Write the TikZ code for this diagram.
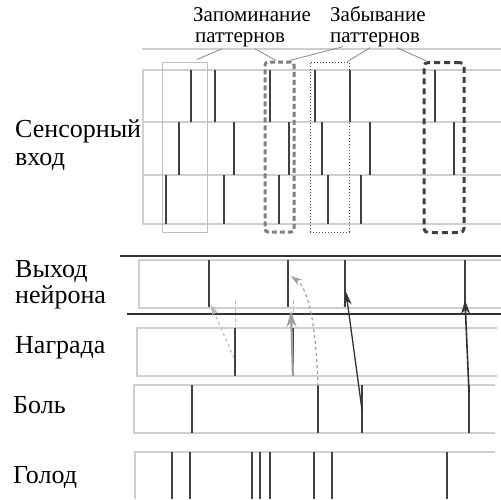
\documentclass[tikz,border=0pt]{standalone}
\usepackage{fontspec}
\setmainfont{Liberation Serif}
\usepackage{tikz}
\usetikzlibrary{arrows.meta,calc,positioning}

\definecolor{spikegray}{HTML}{404040}
\definecolor{gridgray}{HTML}{CFCFCF}

\tikzset{
  grid line/.style={gridgray, line width=1.3pt},
  spike/.style={spikegray, line width=1.7pt},
  sep line/.style={black!80, line width=1.6pt},
  side text/.style={font=\fontsize{26}{28}\selectfont, anchor=base west, inner sep=0pt},
  top text/.style={font=\fontsize{21}{20}\selectfont, anchor=base west, inner sep=0pt},
  pointer/.style={gray!85, line width=0.9pt},
  window/.style={inner sep=0pt, minimum height=170pt},
}

\begin{document}
\begin{tikzpicture}[x=1pt,y=-1pt]
\useasboundingbox (0,0) rectangle (501,499);

% Подписи слева
\node[side text] (sens1) at (15,137) {Сенсорный};
\node[side text] (sens2) at (15,165) {вход};
\node[side text] (out1) at (15,277) {Выход};
\node[side text] (out2) at (15,303) {нейрона};
\node[side text] (reward) at (15,353) {Награда};
\node[side text] (pain) at (13,413) {Боль};
\node[side text] (hunger) at (13,483) {Голод};

% Подписи сверху
\node[top text] (remember1) at (193,21) {Запоминание};
\node[top text] (remember2) at (195,42) {паттернов};
\node[top text] (forget1) at (330,21) {Забывание};
\node[top text] (forget2) at (330,42) {паттернов};

% Сетка сенсорного входа
\draw[grid line] (142,49) -- (501,49);
\draw[grid line] (501,70) -- (143,70) -- (143,224) -- (501,224);
\draw[grid line] (143,122) -- (501,122);
\draw[grid line] (143,175) -- (501,175);

% Спайки входа по трем каналам
\draw[spike] (191,70) -- (191,122) (215,70) -- (215,122) (270,70) -- (270,122)
  (315,70) -- (315,122) (350,70) -- (350,122) (435,70) -- (435,122);
\draw[spike] (179,122) -- (179,175) (234,122) -- (234,175) (289,122) -- (289,175)
  (322,122) -- (322,175) (370,122) -- (370,175) (454,122) -- (454,175);
\draw[spike] (166,175) -- (166,224) (224,175) -- (224,224) (279,175) -- (279,224)
  (328,175) -- (328,224) (361,175) -- (361,224);

% Окна паттернов
\node[window, draw=gray!50, line width=1pt, minimum width=45pt] (winA) at (184.5,147) {};
\node[window, draw=black!50, line width=3pt, dash pattern=on 5pt off 3pt,
  rounded corners=3pt, minimum width=29pt] (winB) at (279.5,147) {};
\node[window, draw=black!70, line width=1pt, dotted, minimum width=39pt] (winC) at (329.5,147) {};
\node[window, draw=black!75, line width=3pt, dash pattern=on 6pt off 4pt,
  rounded corners=4pt, minimum width=40pt] (winD) at (444,147.5) {};

% Выноски
\draw[pointer] ($(winA.north)+(12.5,-2)$) -- ($(remember2.south west)+(27,2)$);
\draw[pointer] ($(remember2.south west)+(60,2)$) -- ($(winB.north)+(-3.5,0)$);
\draw[pointer] ($(winB.north east)+(-6,0)$) -- ($(forget2.south west)+(13,0)$);
\draw[pointer] ($(winC.north east)+(-2,0)$) -- ($(forget2.south west)+(40,1)$);
\draw[pointer] ($(forget2.south west)+(67,1)$) -- ($(winD.north west)+(4,0)$);

% Полосы выхода и подкрепления
\draw[sep line] (120,256) -- (501,256);
\draw[grid line] (501,260) -- (139,260) -- (139,308) -- (501,308);
\draw[sep line] (127,314) -- (501,314);
\draw[grid line] (497,328) -- (137,328) -- (137,376) -- (497,376);
\draw[grid line] (495,385) -- (134,385) -- (134,433) -- (495,433);
\draw[grid line] (495,452) -- (135,452) -- (135,499);

% Спайки выхода нейрона
\draw[spike] (209,260) -- (209,307) (288,260) -- (288,307)
  (345,260) -- (345,307) (465,260) -- (465,307);
% Награда
\draw[spike] (235,328) -- (235,376) (293,328) -- (293,376);
% Боль
\draw[spike] (192,385) -- (192,433) (318,385) -- (318,433)
  (362,385) -- (362,433) (469,385) -- (469,433);
% Голод
\draw[spike] (172,452) -- (172,499) (190,452) -- (190,499) (252,452) -- (252,499)
  (260,452) -- (260,499) (270,452) -- (270,499) (314,452) -- (314,499)
  (332,452) -- (332,499) (447,452) -- (447,499);

% Точки связи между полосами
\coordinate (rwA) at (234,358);
\coordinate (rwB) at (293,376);
\coordinate (pnA) at (318,386);
\coordinate (pnB) at (362,410);
\coordinate (pnC) at (469,392);
\coordinate (spA) at (211,305);
\coordinate (spB) at (291,311);
\coordinate (spC) at (291,276);
\coordinate (spD) at (346,292);
\coordinate (spE) at (465,300);

\draw[gray!55, line width=0.9pt, dash pattern=on 4pt off 2pt on 1pt off 2pt] (235,300) -- (235,328);
\draw[gray!55, line width=0.9pt, dash pattern=on 4pt off 2pt on 1pt off 2pt] (293,300) -- (293,312);

% Стрелки
\draw[gray!55, line width=1pt, dashed, -{Stealth[length=11pt, width=7pt]}] (rwA) -- (spA);
\draw[gray!75, line width=2.2pt, -{Stealth[length=16pt, width=10pt]}] (rwB) -- (spB);
\draw[gray!75, line width=1.2pt, dashed, -{Stealth[length=11pt, width=7pt]}]
  (pnA) .. controls (316,330) and (310,290) .. (spC);
\draw[black!80, line width=1.3pt, -{Stealth[length=13pt, width=8pt]}] (pnB) -- (spD);
\draw[black!80, line width=1.6pt, -{Stealth[length=14pt, width=9pt]}] (pnC) -- (spE);
\end{tikzpicture}
\end{document}
